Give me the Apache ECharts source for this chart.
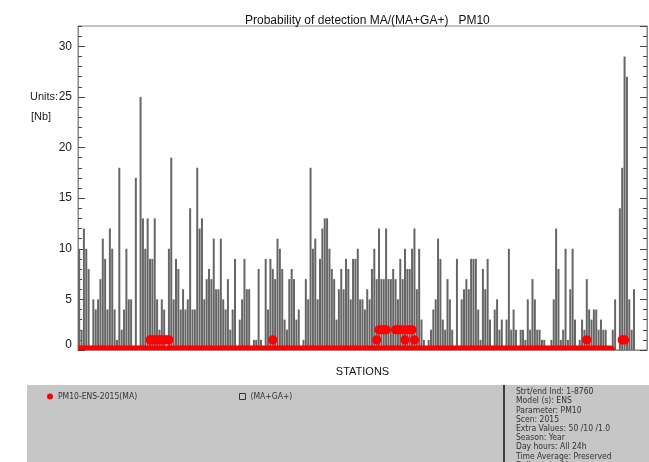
<!DOCTYPE html>
<html><head><meta charset="utf-8">
<script src="https://cdn.jsdelivr.net/npm/echarts@6/dist/echarts.min.js"></script>
<style>html,body{margin:0;padding:0;background:#fff}#c{width:649px;height:462px}</style>
</head><body><div id="c"></div>
<script>
const titleText = 'Probability of detection MA/(MA+GA+)   PM10';
const xAxisName = 'STATIONS';
const unitLines = ['Units:', '[Nb]'];
const barName = '(MA+GA+)';
const dotName = 'PM10-ENS-2015(MA)';
const yMin = 0, yMax = 32, yStep = 5;
const stationSlots = 241;

// (MA+GA+) counts per station
const barValues = [
 10,2,12,10,8,0,5,4,5,7,
 11,9,4,12,10,4,1,18,2,4,
 10,5,5,0,17,0,25,13,10,13,
 9,9,13,5,2,5,4,0,10,19,
 5,9,8,4,6,4,5,14,4,4,
 18,12,13,5,7,8,7,11,6,6,
 11,5,4,7,2,4,9,0,3,5,
 9,6,6,0,1,1,8,1,0,9,
 4,9,8,7,11,10,8,3,2,7,
 8,7,3,4,0,1,7,5,18,10,
 11,5,9,12,13,13,10,8,7,3,
 6,8,6,9,8,5,9,9,10,5,
 5,4,6,5,8,10,7,12,7,7,
 12,7,7,8,7,5,9,7,10,8,
 8,10,12,6,10,3,1,0,1,2,
 4,5,11,9,3,2,7,5,2,0,
 9,0,5,6,7,6,9,9,9,4,
 1,8,6,9,3,0,4,5,2,3,
 0,3,10,2,4,2,0,2,2,1,
 5,2,7,5,2,2,1,1,0,0,
 1,5,12,8,1,2,10,1,6,10,
 3,0,1,3,2,7,4,3,4,4,
 2,3,2,2,0,0,2,5,0,14,
 18,29,27,5,2,6
];

// MA points lying on zero, one per station
const dotBase = [
 0,0,0,0,0,0,0,0,0,0, 0,0,0,0,0,0,0,0,0,0, 0,0,0,0,0,0,0,0,0,0,
 0,0,0,0,0,0,0,0,0,0, 0,0,0,0,0,0,0,0,0,0, 0,0,0,0,0,0,0,0,0,0,
 0,0,0,0,0,0,0,0,0,0, 0,0,0,0,0,0,0,0,0,0, 0,0,0,0,0,0,0,0,0,0,
 0,0,0,0,0,0,0,0,0,0, 0,0,0,0,0,0,0,0,0,0, 0,0,0,0,0,0,0,0,0,0,
 0,0,0,0,0,0,0,0,0,0, 0,0,0,0,0,0,0,0,0,0, 0,0,0,0,0,0,0,0,0,0,
 0,0,0,0,0,0,0,0,0,0, 0,0,0,0,0,0,0,0,0,0, 0,0,0,0,0,0,0,0,0,0,
 0,0,0,0,0,0,0,0,0,0, 0,0,0,0,0,0,0,0,0,0, 0,0,0,0,0,0,0,0,0,0,
 0,0,0,0,0,0,0,0,0,0, 0,0,0,0,0,0
];

// MA points above zero (null = none)
const dotRaised = [
 null,null,null,null,null,null,null,null,null,null,
 null,null,null,null,null,null,null,null,null,null,
 null,null,null,null,null,null,null,null,null,null,
 1,1,1,1,1,1,1,1,1,null,
 null,null,null,null,null,null,null,null,null,null,
 null,null,null,null,null,null,null,null,null,null,
 null,null,null,null,null,null,null,null,null,null,
 null,null,null,null,null,null,null,null,null,null,
 null,null,1,null,null,null,null,null,null,null,
 null,null,null,null,null,null,null,null,null,null,
 null,null,null,null,null,null,null,null,null,null,
 null,null,null,null,null,null,null,null,null,null,
 null,null,null,null,null,null,1,2,2,2,
 2,null,null,null,2,2,2,2,1,2,
 2,2,1,null,null,null,null,null,null,null,
 null,null,null,null,null,null,null,null,null,null,
 null,null,null,null,null,null,null,null,null,null,
 null,null,null,null,null,null,null,null,null,null,
 null,null,null,null,null,null,null,null,null,null,
 null,null,null,null,null,null,null,null,null,null,
 null,null,null,null,null,null,null,null,null,null,
 null,null,null,null,null,1,null,null,null,null,
 null,null,null,null,null,null,null,null,null,null,
 1,1,null,null,null,null
];

const infoLines = [
 'Strt/end Ind: 1-8760',
 'Model (s): ENS',
 'Parameter: PM10',
 'Scen: 2015',
 'Extra Values: 50 /10 /1.0',
 'Season: Year',
 'Day hours: All 24h',
 'Time Average: Preserved',
 'Daily stats: Mean'
];

const stations = [];
for (let i = 0; i < stationSlots; i++) stations.push('St' + (i + 1));

const dotData = [];
dotBase.forEach((v, i) => { if (v != null) dotData.push([i, v]); });
dotRaised.forEach((v, i) => { if (v != null) dotData.push([i, v]); });

const FONT = "'Liberation Sans', Arial, sans-serif";
const NARROW = "'Liberation Sans Narrow', 'DejaVu Sans Condensed', 'Liberation Sans', sans-serif";

function yAx(pos, step, len, labels) {
  return {
    type: 'value', min: yMin, max: yMax, interval: step, position: pos,
    axisLine: { show: step === yStep, lineStyle: { color: '#888', width: 1 } },
    axisTick: { show: true, inside: true, length: len, lineStyle: { color: '#444' } },
    splitLine: { show: false },
    axisLabel: labels ? {
      show: true, showMaxLabel: false, margin: 6, fontSize: 12, color: '#222', fontFamily: FONT,
      formatter: v => v === 0 ? '{z|0}' : String(v),
      rich: { z: { fontSize: 12, color: '#222', fontFamily: FONT, padding: [0, 0, 10, 0] } }
    } : { show: false }
  };
}

const graphics = [
  { type: 'rect', z: 0, shape: { x: 27, y: 385, width: 622, height: 77 }, style: { fill: '#c6c6c6' } },
  { type: 'line', z: 1, shape: { x1: 504, y1: 385, x2: 504, y2: 462 }, style: { stroke: '#111', lineWidth: 1.5 } },
  { type: 'text', z: 1, style: { x: 30, y: 97, text: unitLines[0], fontSize: 11, fontFamily: FONT, fill: '#222', verticalAlign: 'middle' } },
  { type: 'text', z: 1, style: { x: 31, y: 117, text: unitLines[1], fontSize: 11, fontFamily: FONT, fill: '#222', verticalAlign: 'middle' } }
];
infoLines.forEach((t, k) => {
  graphics.push({ type: 'text', z: 2, style: { x: 516, y: 392 + k * 9.2, text: t, fontSize: 8.5, fontFamily: NARROW, fill: '#333', verticalAlign: 'middle' } });
});

const chart = echarts.init(document.getElementById('c'));
chart.setOption({
  animation: false,
  backgroundColor: '#fff',
  title: { text: titleText, left: 240, top: 10, textStyle: { fontSize: 12, fontWeight: 'normal', color: '#111', fontFamily: FONT } },
  grid: { left: 78, right: 2, top: 26, bottom: 112, show: true, borderColor: '#888', borderWidth: 1 },
  legend: [
    { left: 42, top: 387, z: 5, itemWidth: 6, itemHeight: 6, selectedMode: false,
      data: [{ name: dotName, icon: 'circle', itemStyle: { color: '#ff0000' } }],
      textStyle: { fontSize: 8.5, fontFamily: NARROW, color: '#333' } },
    { left: 234, top: 387, z: 5, itemWidth: 6, itemHeight: 6, selectedMode: false,
      data: [{ name: barName, icon: 'rect', itemStyle: { color: 'rgba(0,0,0,0)', borderColor: '#333', borderWidth: 1 } }],
      textStyle: { fontSize: 8.5, fontFamily: NARROW, color: '#333' } }
  ],
  xAxis: {
    type: 'category', data: stations, boundaryGap: true,
    axisTick: { show: false }, axisLabel: { show: false },
    axisLine: { lineStyle: { color: '#888' } },
    name: xAxisName, nameLocation: 'middle', nameGap: 16,
    nameTextStyle: { fontSize: 11, color: '#111', fontFamily: FONT }
  },
  yAxis: [yAx('left', yStep, 7, true), yAx('left', 1, 4, false), yAx('right', yStep, 7, false), yAx('right', 1, 4, false)],
  graphic: graphics,
  series: [
    { type: 'bar', name: barName, data: barValues, barWidth: 2, z: 2,
      itemStyle: { color: '#666666' } },
    { type: 'custom', name: dotName, coordinateSystem: 'cartesian2d', clip: true, z: 3,
      itemStyle: { color: '#ff0000' }, encode: { x: 0, y: 1 },
      renderItem: (params, api) => {
        const p = api.coord([api.value(0), api.value(1)]);
        return { type: 'circle', shape: { cx: p[0], cy: p[1], r: 4.6 }, style: { fill: '#ff0000' } };
      },
      data: dotData }
  ]
});
</script>
</body></html>
